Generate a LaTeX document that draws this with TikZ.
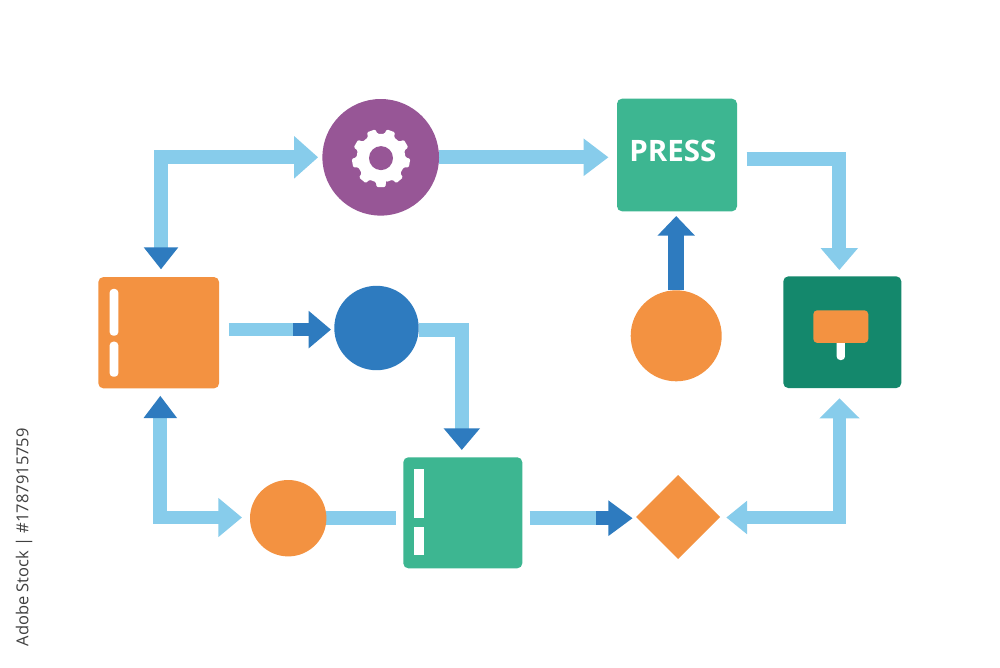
\documentclass[tikz,border=0pt]{standalone}
\usepackage{fontspec}
\setmainfont{Open Sans}
\usetikzlibrary{arrows.meta,shapes.geometric}
\definecolor{orangeC}{HTML}{F39241}
\definecolor{greenC}{HTML}{3DB691}
\definecolor{darkgreenC}{HTML}{14886C}
\definecolor{purpleC}{HTML}{975696}
\definecolor{blueC}{HTML}{2E7BBF}
\definecolor{lightC}{HTML}{87CCEB}
\pgfdeclarelayer{bg}
\pgfsetlayers{bg,main}
\tikzset{
  lh/.tip={Triangle[length=22pt,width=36pt,sep=0pt,color=lightC]},
  lhw/.tip={Triangle[length=24pt,width=41pt,sep=0pt,color=lightC]},
  dh/.tip={Triangle[length=22pt,width=33pt,sep=0pt,color=blueC]},
  conn/.style={draw=lightC,line width=13.7pt,line join=miter},
  dconn/.style={draw=blueC,line width=13.7pt},
  sq/.style={rectangle,rounded corners=5pt,inner sep=0pt,outer sep=0pt},
  disc/.style={circle,inner sep=0pt,outer sep=0pt},
  whitebar/.style={rectangle,fill=white,inner sep=0pt,outer sep=0pt,rounded corners=3.5pt},
  flatbar/.style={rectangle,fill=white,inner sep=0pt,outer sep=0pt},
}
\begin{document}
\begin{tikzpicture}[x=1pt,y=-1pt]
\useasboundingbox (0,0) rectangle (1000,667);

% nodes
\node[disc,fill=purpleC,minimum size=116.6pt] (gearC) at (380.7,157.3) {};
\node[sq,fill=greenC,minimum width=120pt,minimum height=112.6pt] (press) at (677,155) {};
\node[font=\fontsize{29.5}{30}\selectfont\bfseries,text=white,inner sep=0pt] (presslabel) at (672.8,151.4) {PRESS};
\node[sq,fill=orangeC,minimum width=120.7pt,minimum height=111.3pt] (orangeSq) at (158.7,332.7) {};
\node[whitebar,minimum width=8.6pt,minimum height=46.7pt] (barA) at (114,312.3) {};
\node[whitebar,minimum width=8.6pt,minimum height=35pt] (barB) at (114,359.2) {};
\node[disc,fill=blueC,minimum size=84.4pt] (blueDisc) at (376.5,328) {};
\node[disc,fill=orangeC,minimum size=91pt] (orangeTop) at (676.2,335.8) {};
\node[sq,fill=darkgreenC,minimum width=118pt,minimum height=111.7pt] (darkSq) at (842.3,332.2) {};
\node[whitebar,minimum width=8.3pt,minimum height=24pt] (stem) at (840.8,348) {};
\node[sq,fill=orangeC,rounded corners=4pt,minimum width=55pt,minimum height=32.7pt] (sign) at (840.8,326.6) {};
\node[disc,fill=orangeC,minimum size=76.4pt] (orangeLow) at (288.2,518.2) {};
\node[sq,fill=greenC,minimum width=119pt,minimum height=111pt] (greenSq) at (462.8,512.8) {};
\node[flatbar,minimum width=10pt,minimum height=49pt] (barC) at (419.3,493.8) {};
\node[flatbar,minimum width=10pt,minimum height=28pt] (barD) at (419.3,541) {};
\node[diamond,aspect=1,fill=orangeC,inner sep=0pt,outer sep=0pt,minimum width=84pt,minimum height=84pt] (dia) at (678,517) {};

% gear
\begin{scope}[shift={(gearC.center)},shift={(0.3,0.8)}]
\fill[white,rounded corners=1.2pt]
  (78:24.5)
  \foreach \a in {90,130,170,210,250,290,330,370,410} {
    -- (\a-12:24.5) -- (\a-8.5:29.3) -- (\a+8.5:29.3) -- (\a+12:24.5)
  } -- cycle;
\fill[purpleC] (0,0) circle (12);
\end{scope}

% connectors
\begin{pgfonlayer}{bg}
\fill[white] (0,0) rectangle (1000,667);
\draw[conn,{dh}-{lhw},shorten <=7.7pt,shorten >=4.3pt]
  ([xshift=2.3pt]orangeSq.north) |- (gearC.west);
\draw[conn,-{Triangle[length=25pt,width=36pt,sep=0pt,color=lightC]},shorten >=8.5pt]
  (gearC.east) -- (gearC.east -| press.west);
\draw[dconn,line width=15.7pt,-{Triangle[length=19.7pt,width=36.3pt,sep=0pt,color=blueC]},shorten >=4.7pt]
  (orangeTop.north) -- (orangeTop.north |- press.south);
\draw[conn,-{lh},shorten <=9.7pt,shorten >=6.3pt]
  ([yshift=-3.8pt]press.east) -| ([xshift=-3pt]darkSq.north);
% square to blue disc
\draw[conn,shorten <=9.7pt,shorten >=41pt]
  ([yshift=-1.6pt]orangeSq.east |- blueDisc.west) -- ([yshift=-1.6pt]blueDisc.west);
\draw[dconn,-{Triangle[length=22.3pt,width=36pt,sep=0pt,color=blueC]},shorten >=3.3pt]
  ([xshift=-41.3pt,yshift=-1.6pt]blueDisc.west) -- ([yshift=-1.6pt]blueDisc.west);
% blue disc to green square
\draw[conn,-{Triangle[length=21.7pt,width=35pt,sep=0pt,color=blueC]},shorten >=7.3pt]
  ([yshift=-2pt]blueDisc.east) -| ([xshift=-1pt]greenSq.north);
% orange square to low disc
\draw[conn,{Triangle[length=22.3pt,width=32pt,sep=0pt,color=blueC]}-{Triangle[length=23.7pt,width=37.7pt,sep=0pt,color=lightC]},shorten <=7.4pt,shorten >=8pt]
  ([xshift=1.6pt]orangeSq.south) |- ([yshift=0.7pt]orangeLow.west);
% low disc to green square
\draw[conn,shorten >=7.3pt] (orangeLow.east) -- (orangeLow.east -| greenSq.west);
% green square to diamond
\draw[conn,shorten <=7.2pt,shorten >=40pt]
  (greenSq.east |- orangeLow.east) -- (dia.west |- orangeLow.east);
\draw[dconn,-{Triangle[length=24.4pt,width=34pt,sep=0pt,color=blueC]},shorten >=3.3pt]
  ([xshift=-40pt]dia.west |- orangeLow.east) -- (dia.west |- orangeLow.east);
% diamond to dark square
\draw[conn,{Triangle[length=20.7pt,width=32pt,sep=0pt,color=lightC]}-{Triangle[length=20pt,width=39pt,sep=0pt,color=lightC]},shorten <=6.3pt,shorten >=10.3pt]
  ([yshift=-0.5pt]dia.east) -| ([xshift=-2.8pt]darkSq.south);
\end{pgfonlayer}

% side credit
\node[rotate=90,anchor=east,text=black!75,font=\fontsize{16.5}{18}\selectfont,inner sep=0pt] (credit) at (24,428) {Adobe Stock | \#1787915759};
\end{tikzpicture}
\end{document}
